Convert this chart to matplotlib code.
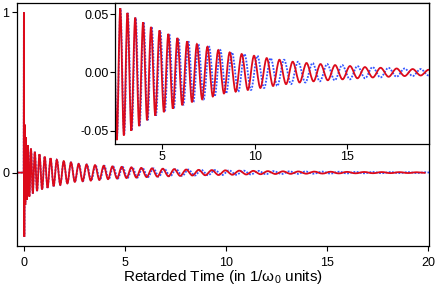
import matplotlib
matplotlib.use("Agg")
import matplotlib.pyplot as plt
from matplotlib.path import Path
from matplotlib.patches import PathPatch
from matplotlib.ticker import FormatStrFormatter

plt.rcParams['font.family'] = ['Liberation Sans', 'DejaVu Sans']
plt.rcParams['axes.unicode_minus'] = False
plt.rcParams['mathtext.default'] = 'regular'

# extrema of the red (solid) trace
t_red = [-0.32, -0.01, 0.0, 0.02, 0.045, 0.07, 0.10, 0.14, 0.20, 0.27, 0.35, 0.44,
         0.54, 0.65, 0.77, 0.90, 1.03, 1.17, 1.32, 1.47, 1.63, 1.80, 1.97, 2.15,
         2.33, 2.52, 2.71, 2.905, 3.10, 3.31, 3.52, 3.735, 3.95, 4.165, 4.38, 4.61,
         4.84, 5.08, 5.32, 5.565, 5.81, 6.075, 6.34, 6.605, 6.87, 7.155, 7.44, 7.735,
         8.03, 8.34, 8.65, 8.975, 9.30, 9.635, 9.97, 10.315, 10.66, 11.005, 11.35, 11.71,
         12.07, 12.445, 12.82, 13.2, 13.58, 13.975, 14.37, 14.775, 15.18, 15.585, 15.99, 16.415,
         16.84, 17.275, 17.71, 18.145, 18.58, 19.015, 19.45, 19.88]
v_red = [0.0, 0.0, 1.0, -0.40, 0.30, -0.20, 0.22, -0.17, 0.17, -0.15, 0.15, -0.13,
         0.13, -0.115, 0.115, -0.105, 0.10, -0.095, 0.09, -0.085, 0.08, -0.077, 0.072, -0.068,
         0.064, -0.058, 0.055, -0.054, 0.051, -0.050, 0.047, -0.046, 0.043, -0.041, 0.039, -0.037,
         0.036, -0.034, 0.033, -0.031, 0.0295, -0.028, 0.0266, -0.0255, 0.0243, -0.023, 0.022, -0.0206,
         0.0192, -0.018, 0.0172, -0.0165, 0.0158, -0.015, 0.0143, -0.0133, 0.0123, -0.0116, 0.0109, -0.010,
         0.0092, -0.0086, 0.0081, -0.0076, 0.0072, -0.0067, 0.0063, -0.0059, 0.0055, -0.0050, 0.0046, -0.0043,
         0.0040, -0.0037, 0.0034, -0.0031, 0.0029, -0.0026, 0.0023, -0.0021]

# how far each blue (dotted) extremum lags the red one
blue_lag = [0.0] * 25 + [
    0.005, 0.01, 0.015, 0.02, 0.023, 0.026, 0.028, 0.03, 0.034, 0.037, 0.04,
    0.043, 0.046, 0.05, 0.053, 0.056, 0.063, 0.07, 0.074, 0.077, 0.085, 0.093, 0.10,
    0.108, 0.117, 0.126, 0.14, 0.155, 0.17, 0.185, 0.20, 0.215, 0.23, 0.25, 0.27,
    0.29, 0.31, 0.33, 0.345, 0.36, 0.375, 0.39, 0.40, 0.405, 0.41, 0.415, 0.42,
    0.43, 0.433, 0.435, 0.435, 0.435, 0.435, 0.435, 0.435]

t_blue = [t + d for t, d in zip(t_red, blue_lag)]

red = '#dc0a1a'
blue = '#3355ff'


def wave(ts, vs):
    # smooth curve through the extrema, flat at each one
    verts = [(ts[0], vs[0])]
    codes = [Path.MOVETO]
    for i in range(1, len(ts)):
        d = (ts[i] - ts[i - 1]) / 3
        verts += [(ts[i - 1] + d, vs[i - 1]), (ts[i] - d, vs[i]), (ts[i], vs[i])]
        codes += [Path.CURVE4] * 3
    return Path(verts, codes)


def draw(a):
    a.add_patch(PathPatch(wave(t_blue, v_red), fill=False, edgecolor=blue,
                          lw=1.3, ls=(0, (1, 0.8))))
    a.add_patch(PathPatch(wave(t_red, v_red), fill=False, edgecolor=red, lw=1.3))


fig = plt.figure(figsize=(4.36, 2.87), dpi=100)
ax = fig.add_axes([0.040, 0.143, 0.944, 0.847])
draw(ax)
ax.set_xlim(-0.32, 20.05)
ax.set_ylim(-0.458, 1.06)
ax.set_xticks([0, 5, 10, 15, 20])
ax.set_yticks([0, 1])
ax.tick_params(direction='out', length=3.3, width=0.8, labelsize=9)
ax.tick_params(axis='x', pad=5)
ax.tick_params(axis='y', pad=2.5)
ax.set_xlabel('Retarded Time (in 1/ω$_0$ units)', fontsize=11, labelpad=-1)
for s in ax.spines.values():
    s.set_linewidth(0.9)

ins = fig.add_axes([0.264, 0.498, 0.720, 0.491])
draw(ins)
ins.set_xlim(2.43, 19.47)
ins.set_ylim(-0.0614, 0.0594)
ins.set_xticks([5, 10, 15])
ins.set_yticks([-0.05, 0.0, 0.05])
ins.yaxis.set_major_formatter(FormatStrFormatter('%.2f'))
ins.tick_params(direction='out', length=3.3, width=0.8, labelsize=9, pad=1.5)
for s in ins.spines.values():
    s.set_linewidth(0.9)

fig.savefig('out.png', dpi=100)
